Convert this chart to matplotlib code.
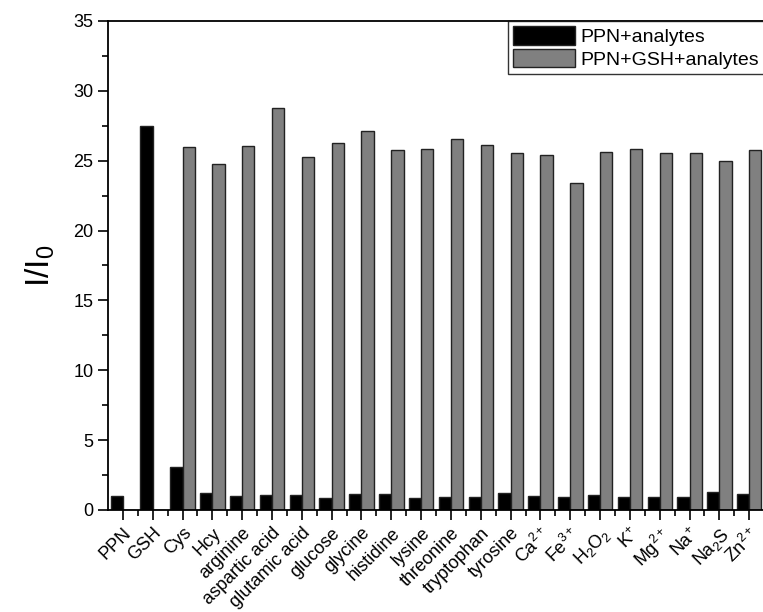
import numpy as np
import matplotlib.pyplot as plt
from matplotlib.ticker import MultipleLocator

plt.rcParams['font.family'] = ['Liberation Sans', 'DejaVu Sans']
plt.rcParams['mathtext.fontset'] = 'custom'
plt.rcParams['mathtext.rm'] = 'Liberation Sans'
plt.rcParams['mathtext.it'] = 'Liberation Sans'

labels = ['PPN', 'GSH', 'Cys', 'Hcy', 'arginine', 'aspartic acid', 'glutamic acid',
          'glucose', 'glycine', 'histidine', 'lysine', 'threonine', 'tryptophan',
          'tyrosine', r'Ca$^{2+}$', r'Fe$^{3+}$', r'H$_2$O$_2$', r'K$^{+}$',
          r'Mg$^{2+}$', r'Na$^{+}$', r'Na$_2$S', r'Zn$^{2+}$']
ppn = [1.0, 27.45, 3.1, 1.19, 1.0, 1.05, 1.05, 0.86, 1.14, 1.14, 0.86,
       0.9, 0.9, 1.24, 1.0, 0.9, 1.1, 0.95, 0.95, 0.95, 1.29, 1.17]
ppn_gsh = [0, 0, 25.96, 24.77, 26.06, 28.78, 25.25, 26.29, 27.15, 25.77, 25.82,
           26.53, 26.13, 25.58, 25.44, 23.43, 25.65, 25.84, 25.58, 25.53, 24.98, 25.77]

x = np.arange(len(labels))
w = 0.41

fig = plt.figure(figsize=(7.63, 6.12), dpi=100)
ax = fig.add_axes([0.1415, 0.1667, 0.86, 0.799])

ax.bar(x - w / 2, ppn, w, color='black', edgecolor='#222222', linewidth=1,
       label='PPN+analytes')
ax.bar(x + w / 2, ppn_gsh, w, color='#808080', edgecolor='#222222', linewidth=1,
       label='PPN+GSH+analytes')

ax.set_xlim(-0.5, len(labels) - 0.5)
ax.set_ylim(0, 35)
ax.yaxis.set_major_locator(MultipleLocator(5))
ax.yaxis.set_minor_locator(MultipleLocator(2.5))
ax.set_xticks(x)
ax.set_xticks(x[:-1] + 0.5, minor=True)
ax.set_xticklabels(labels, rotation=45, ha='right', rotation_mode='anchor', fontsize=13)
ax.tick_params(axis='y', labelsize=13)
ax.tick_params(which='major', length=7, width=1.2, direction='out')
ax.tick_params(which='minor', length=4, width=1.2, direction='out')
for s in ax.spines.values():
    s.set_linewidth(1.3)

ax.set_ylabel(r'I/I$_0$', fontsize=24, labelpad=12)

leg = ax.legend(loc='upper right', fontsize=14, frameon=True, fancybox=False,
                edgecolor='black', borderaxespad=0, handlelength=3.2,
                handleheight=1.1, borderpad=0.25, labelspacing=0.15, handletextpad=0.3)
leg.get_frame().set_linewidth(1.0)

fig.savefig('out.png', dpi=100)
